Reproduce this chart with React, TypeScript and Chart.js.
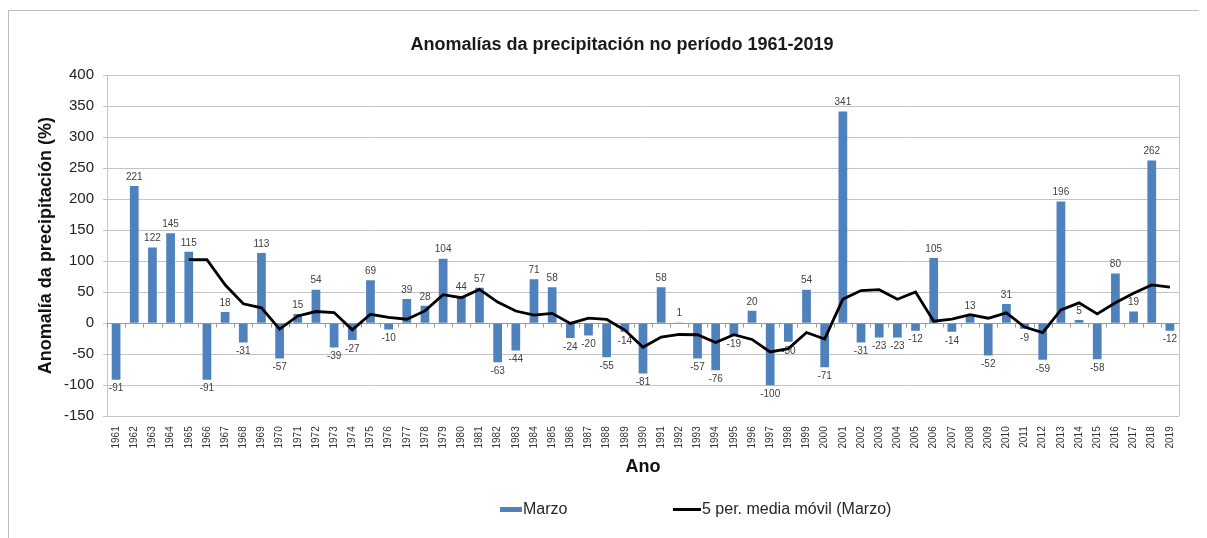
import React, { useEffect, useRef } from "react";
import { Chart, registerables } from "chart.js";

Chart.register(...registerables);

const years: string[] = [
  "1961", "1962", "1963", "1964", "1965", "1966", "1967", "1968", "1969", "1970",
  "1971", "1972", "1973", "1974", "1975", "1976", "1977", "1978", "1979", "1980",
  "1981", "1982", "1983", "1984", "1985", "1986", "1987", "1988", "1989", "1990",
  "1991", "1992", "1993", "1994", "1995", "1996", "1997", "1998", "1999", "2000",
  "2001", "2002", "2003", "2004", "2005", "2006", "2007", "2008", "2009", "2010",
  "2011", "2012", "2013", "2014", "2015", "2016", "2017", "2018", "2019",
];

const marzo: number[] = [
  -91, 221, 122, 145, 115, -91, 18, -31, 113, -57,
  15, 54, -39, -27, 69, -10, 39, 28, 104, 44,
  57, -63, -44, 71, 58, -24, -20, -55, -14, -81,
  58, 1, -57, -76, -19, 20, -100, -30, 54, -71,
  341, -31, -23, -23, -12, 105, -14, 13, -52, 31,
  -9, -59, 196, 5, -58, 80, 19, 262, -12,
];

const mediaMovil: (number | null)[] = [
  null, null, null, null, 102.4, 102.4, 61.8, 31.2, 24.8, -9.6,
  11.6, 18.8, 17.2, -10.8, 14.4, 9.4, 6.4, 19.8, 46, 41,
  54.4, 34, 19.6, 13, 15.8, -0.4, 8.2, 6, -11, -38.8,
  -22.4, -18.2, -18.6, -31, -18.6, -26.2, -46.4, -41, -15, -25.4,
  38.8, 52.6, 54, 38.6, 50.4, 3.2, 6.6, 13.8, 8, 16.6,
  -6.2, -15.2, 21.4, 32.8, 15, 32.8, 48.4, 61.6, 58.2,
];

const chartTitle = "Anomalías da precipitación no período 1961-2019";
const yTitle = "Anomalía da precipitación (%)";
const xTitle = "Ano";
const barLabel = "Marzo";
const lineLabel = "5 per. media móvil (Marzo)";
const yMin = -150;
const yMax = 400;
const yStep = 50;

const FONT = "'Liberation Sans', Arial, sans-serif";
const BAR_COLOR = "#4F81BD";
const GRID = "#c4c4c4";

const decorPlugin = {
  id: "decor",
  beforeDatasetsDraw(chart: any) {
    const { ctx, chartArea, scales } = chart;
    const y = scales.y;
    const y0 = y.getPixelForValue(0);
    ctx.save();
    ctx.strokeStyle = "#9a9a9a";
    ctx.lineWidth = 1;
    ctx.beginPath();
    ctx.moveTo(chartArea.left, Math.round(y0) + 0.5);
    ctx.lineTo(chartArea.right, Math.round(y0) + 0.5);
    const n = years.length;
    const w = (chartArea.right - chartArea.left) / n;
    for (let i = 0; i <= n; i++) {
      const px = Math.round(chartArea.left + i * w) + 0.5;
      ctx.moveTo(px, Math.round(y0) + 0.5);
      ctx.lineTo(px, Math.round(y0) + 4.5);
    }
    ctx.stroke();
    ctx.strokeStyle = GRID;
    ctx.beginPath();
    ctx.moveTo(Math.round(chartArea.right) + 0.5, chartArea.top);
    ctx.lineTo(Math.round(chartArea.right) + 0.5, chartArea.bottom);
    ctx.stroke();
    ctx.restore();
  },
  afterDatasetDraw(chart: any, args: any) {
    if (args.index !== 0) return;
    const { ctx } = chart;
    const meta = chart.getDatasetMeta(0);
    ctx.save();
    ctx.font = `10px ${FONT}`;
    ctx.fillStyle = "#404040";
    ctx.textAlign = "center";
    meta.data.forEach((bar: any, i: number) => {
      const v = marzo[i];
      if (v >= 0) {
        ctx.textBaseline = "bottom";
        ctx.fillText(String(v), bar.x, bar.y - 4);
      } else {
        ctx.textBaseline = "top";
        ctx.fillText(String(v), bar.x, bar.y + 4);
      }
    });
    ctx.restore();
  },
  afterDraw(chart: any) {
    const { ctx } = chart;
    ctx.save();
    ctx.font = `bold 18px ${FONT}`;
    ctx.fillStyle = "#1a1a1a";
    ctx.textAlign = "center";
    ctx.textBaseline = "middle";
    ctx.fillText(chartTitle, 613, 34);
    const ly = 498;
    ctx.fillStyle = BAR_COLOR;
    ctx.fillRect(491, ly - 2, 22, 5);
    ctx.font = `16px ${FONT}`;
    ctx.fillStyle = "#262626";
    ctx.textAlign = "left";
    ctx.fillText(barLabel, 514, ly + 1);
    ctx.strokeStyle = "#000";
    ctx.lineWidth = 3;
    ctx.beginPath();
    ctx.moveTo(664, ly + 0.5);
    ctx.lineTo(692, ly + 0.5);
    ctx.stroke();
    ctx.fillText(lineLabel, 693, ly + 1);
    ctx.restore();
  },
};

export default function App() {
  const ref = useRef<HTMLCanvasElement | null>(null);

  useEffect(() => {
    if (!ref.current) return;
    const chart = new Chart(ref.current, {
      type: "bar",
      data: {
        labels: years,
        datasets: [
          {
            type: "bar",
            label: barLabel,
            data: marzo,
            backgroundColor: BAR_COLOR,
            borderWidth: 0,
            categoryPercentage: 1,
            barPercentage: 0.48,
            order: 1,
          },
          {
            type: "line",
            label: lineLabel,
            data: mediaMovil,
            borderColor: "#000000",
            borderWidth: 2.8,
            pointRadius: 0,
            tension: 0,
            fill: false,
            order: 0,
          },
        ],
      } as any,
      options: {
        animation: false,
        responsive: false,
        layout: { padding: { top: 64, left: 10, right: 28, bottom: 61.5 } },
        plugins: {
          legend: { display: false },
          title: { display: false },
          tooltip: { enabled: false },
        },
        scales: {
          x: {
            grid: { display: false, drawTicks: false },
            border: { display: false },
            ticks: {
              autoSkip: false,
              minRotation: 90,
              maxRotation: 90,
              padding: 10,
              color: "#333",
              font: { size: 10, family: FONT },
            },
            title: {
              display: true,
              text: xTitle,
              color: "#111",
              font: { size: 18, weight: "bold", family: FONT, lineHeight: 1 },
              padding: { top: 0, bottom: 0 },
            },
          },
          y: {
            min: yMin,
            max: yMax,
            afterFit: (scale: any) => {
              scale.width = 88;
            },
            ticks: {
              stepSize: yStep,
              padding: 9,
              color: "#222",
              font: { size: 15, family: FONT },
            },
            grid: { color: GRID, tickLength: 4, lineWidth: 1 },
            border: { color: GRID },
            title: {
              display: true,
              text: yTitle,
              color: "#111",
              font: { size: 18, weight: "bold", family: FONT },
              padding: { top: 16, bottom: 0 },
            },
          },
        },
      } as any,
      plugins: [decorPlugin],
    });
    return () => chart.destroy();
  }, []);

  return (
    <div
      style={{
        marginTop: 2,
        width: 1199,
        height: 528,
        borderLeft: "1px solid #bdbdbd",
        borderTop: "1px solid #bdbdbd",
        boxSizing: "border-box",
        background: "#fff",
      }}
    >
      <canvas ref={ref} width={1198} height={527} style={{ display: "block" }} />
    </div>
  );
}
